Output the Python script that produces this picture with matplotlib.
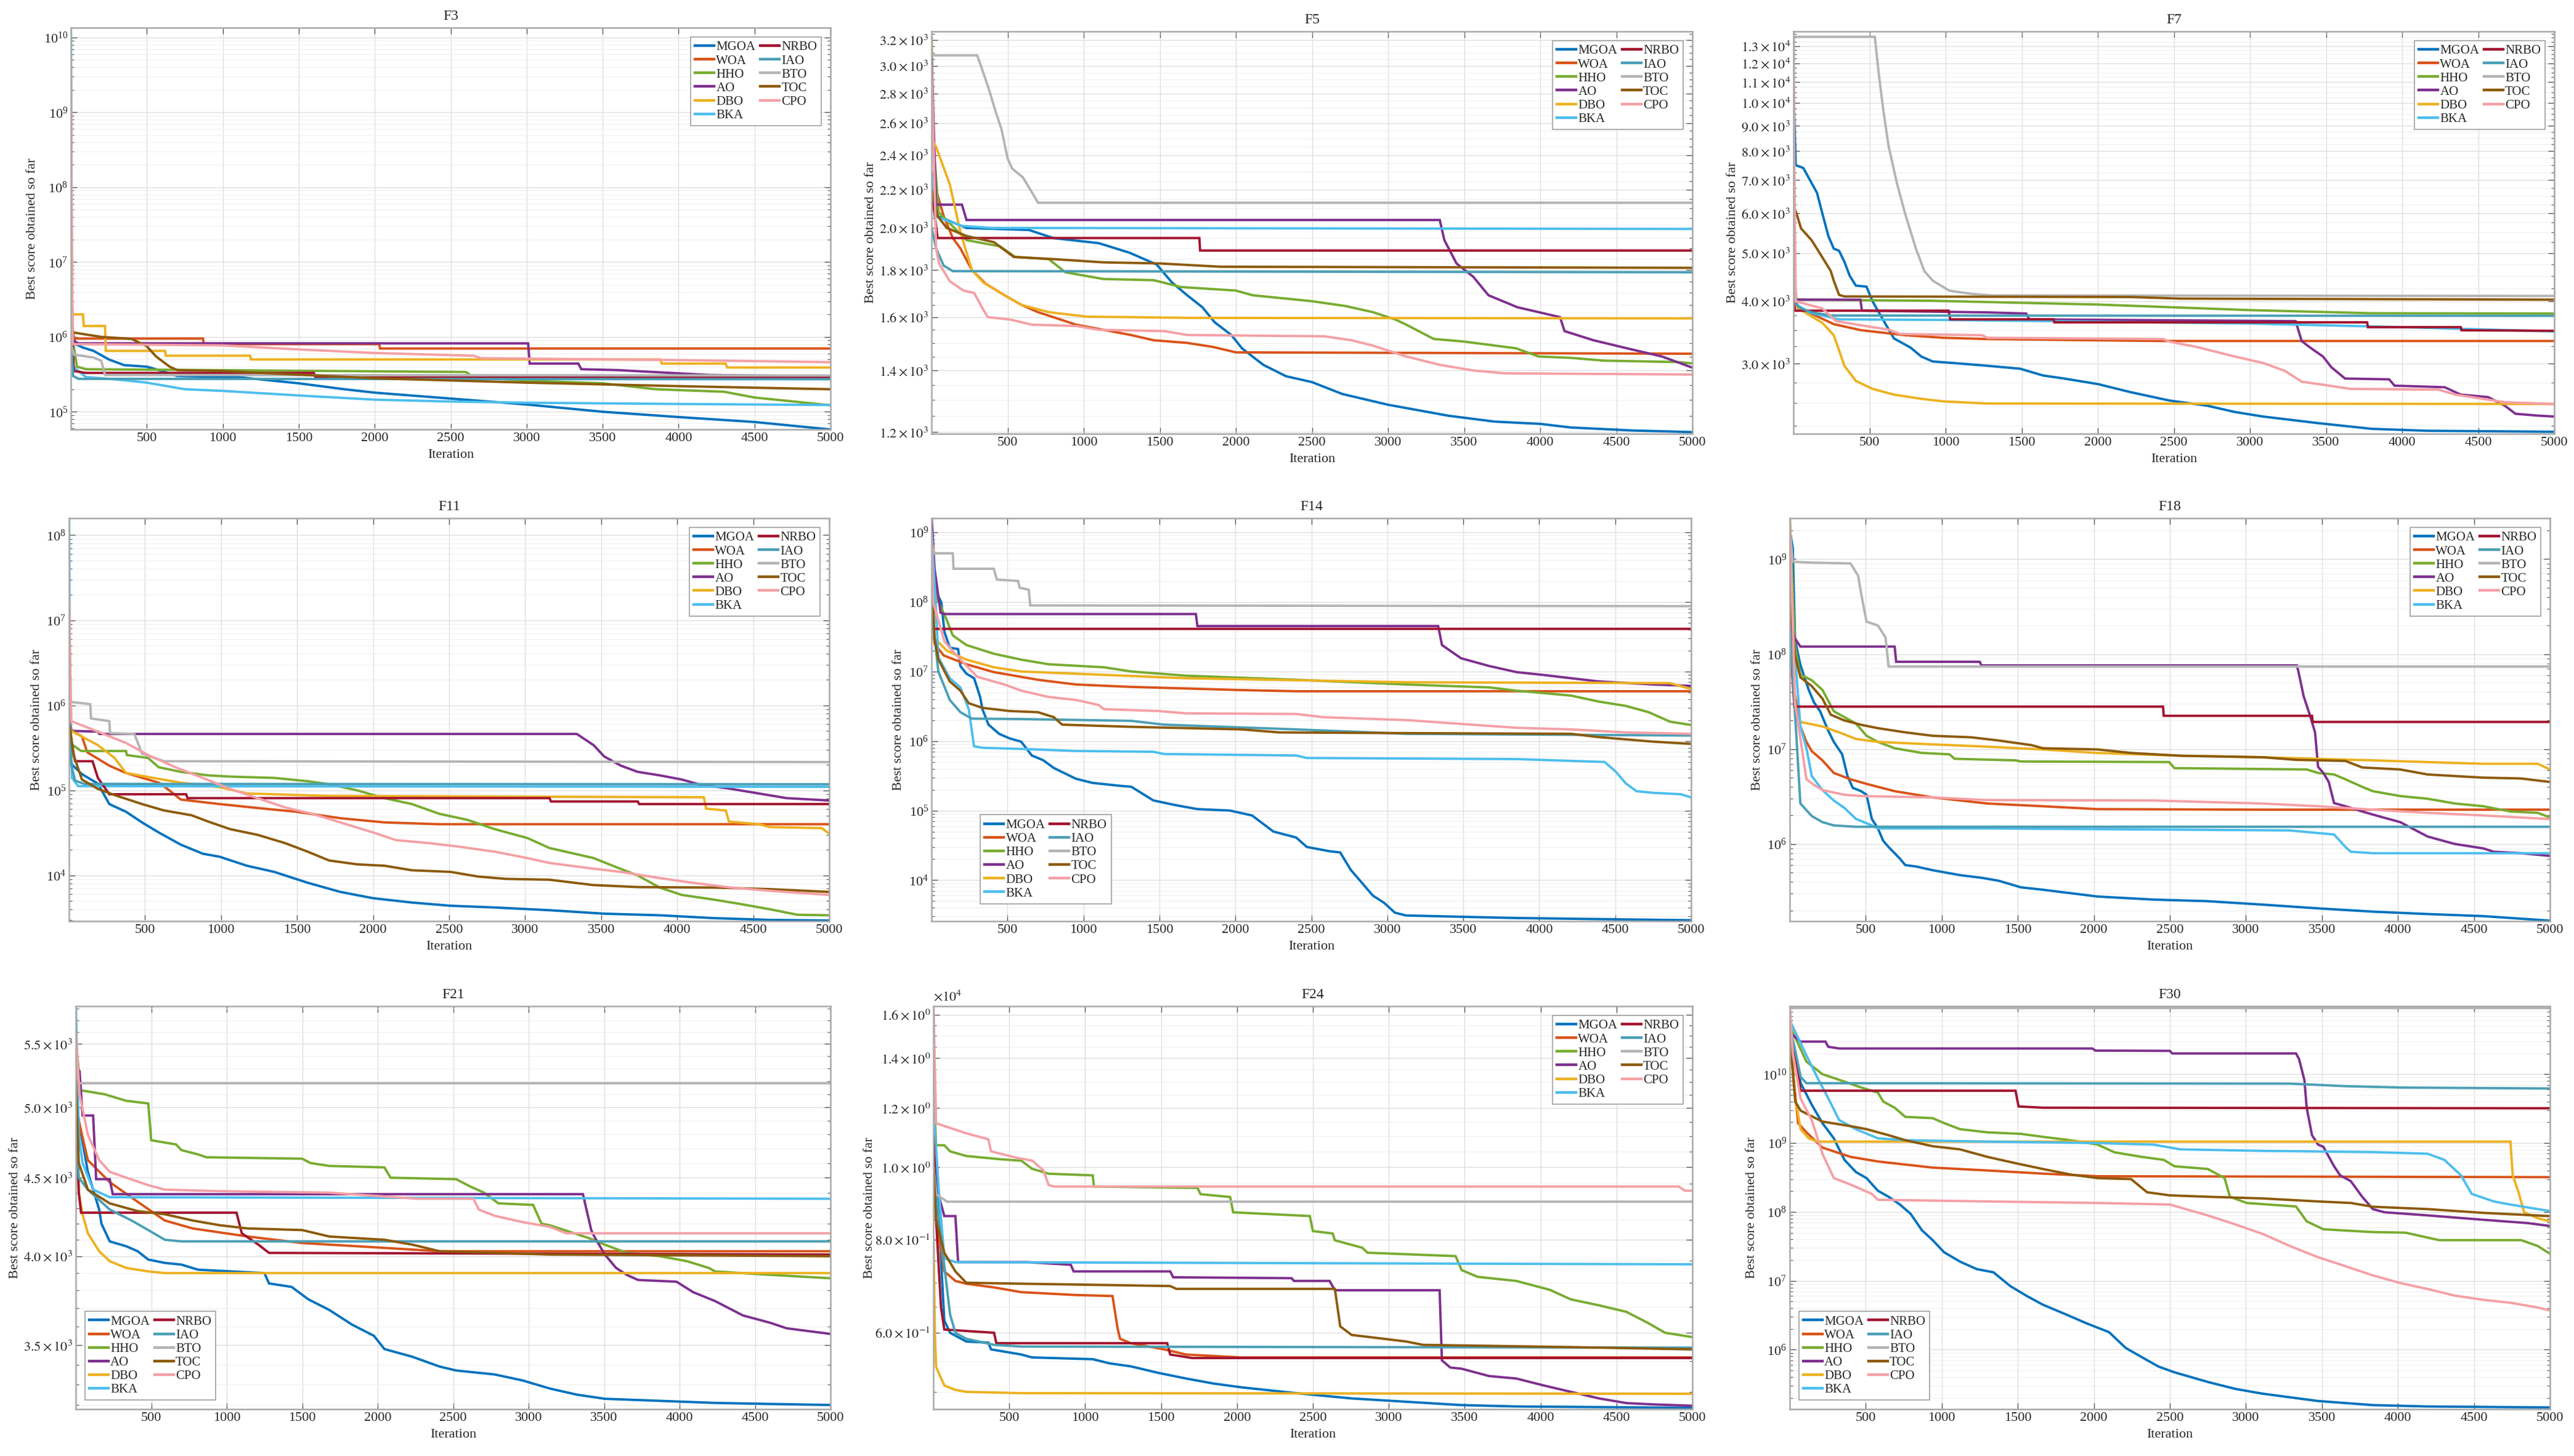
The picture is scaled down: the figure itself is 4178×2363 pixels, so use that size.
import matplotlib
matplotlib.use('Agg')
import matplotlib.pyplot as plt
from matplotlib.ticker import FixedLocator, FixedFormatter, NullFormatter, LogLocator

plt.rcParams['font.family'] = ['Liberation Serif', 'DejaVu Serif']
plt.rcParams['mathtext.fontset'] = 'stix'

ALGOS = ['MGOA', 'WOA', 'HHO', 'AO', 'DBO', 'BKA', 'NRBO', 'IAO', 'BTO', 'TOC', 'CPO']
COLORS = ['#0072BD', '#D95319', '#77AC30', '#7E2F8E', '#EDB120', '#4DBEEE',
          '#A2142F', '#4A9FB5', '#B4B4B4', '#8C5A0B', '#F4A0A5']
ITER_TICKS = [500, 1000, 1500, 2000, 2500, 3000, 3500, 4000, 4500, 5000]
FUNCS = ['F3', 'F5', 'F7', 'F11', 'F14', 'F18', 'F21', 'F24', 'F30']

# ---------------- F3 ----------------
F3_MGOA = [(1, 3.2e6), (10, 1.2e6), (30, 8e5), (80, 7.2e5), (150, 6.5e5), (250, 5e5), (350, 4.2e5), (500, 4e5), (600, 3.5e5), (700, 3e5), (1100, 2.9e5), (1500, 2.4e5), (1800, 2.0e5), (2000, 1.8e5), (2500, 1.5e5), (3000, 1.25e5), (3500, 1.0e5), (4000, 8.5e4), (4500, 7.3e4), (5000, 5.8e4)]
F3_WOA = [(1, 2e6), (20, 9.5e5), (870, 9.5e5), (875, 8e5), (2030, 8e5), (2035, 7e5), (5000, 7e5)]
F3_HHO = [(1, 3e6), (10, 1e6), (40, 4e5), (100, 3.7e5), (2600, 3.4e5), (2650, 2.9e5), (3000, 2.6e5), (3500, 2.4e5), (3850, 2.0e5), (4300, 1.85e5), (4500, 1.55e5), (5000, 1.22e5)]
F3_AO = [(1, 2e6), (10, 9e5), (50, 8.2e5), (3010, 8.2e5), (3020, 4.4e5), (3340, 4.4e5), (3360, 3.7e5), (3600, 3.6e5), (4200, 3.1e5), (5000, 2.95e5)]
F3_DBO = [(1, 3e6), (15, 2e6), (80, 2e6), (85, 1.4e6), (225, 1.4e6), (230, 6.5e5), (620, 6.5e5), (625, 5.6e5), (1180, 5.6e5), (1185, 5e5), (3880, 5e5), (3890, 4.4e5), (4310, 4.4e5), (4320, 3.9e5), (5000, 3.9e5)]
F3_BKA = [(1, 1.35e10), (5, 1e7), (15, 4e5), (100, 2.9e5), (300, 2.7e5), (500, 2.45e5), (750, 2.0e5), (1000, 1.9e5), (1500, 1.65e5), (2000, 1.45e5), (2500, 1.37e5), (3000, 1.32e5), (4000, 1.27e5), (5000, 1.23e5)]
F3_NRBO = [(1, 2e6), (20, 3.5e5), (100, 3.3e5), (1600, 3.3e5), (1610, 2.9e5), (5000, 2.85e5)]
F3_IAO = [(1, 1e6), (15, 3e5), (50, 2.75e5), (5000, 2.72e5)]
F3_BTO = [(1, 8e5), (20, 5.8e5), (150, 5.3e5), (200, 4.8e5), (225, 3.1e5), (5000, 3.05e5)]
F3_TOC = [(1, 3e6), (10, 1.15e6), (200, 1.0e6), (400, 9.4e5), (500, 7.5e5), (560, 5.5e5), (650, 4e5), (700, 3.6e5), (1000, 3.5e5), (1400, 3.2e5), (2000, 2.8e5), (3000, 2.45e5), (4000, 2.2e5), (5000, 2.0e5)]
F3_CPO = [(1, 5e9), (5, 1e8), (12, 8e5), (1000, 7.7e5), (1500, 6.8e5), (2000, 6.1e5), (2650, 5.6e5), (2700, 5.2e5), (4000, 4.9e5), (5000, 4.6e5)]

# ---------------- F5 ----------------
F5_MGOA = [(1, 2200), (20, 2170), (40, 2060), (230, 2000), (640, 1990), (800, 1950), (1100, 1925), (1300, 1880), (1480, 1825), (1580, 1745), (1680, 1690), (1780, 1640), (1860, 1580), (1970, 1530), (2040, 1480), (2180, 1420), (2330, 1380), (2500, 1360), (2700, 1320), (3000, 1285), (3400, 1250), (3700, 1232), (4000, 1225), (4200, 1214), (4600, 1205), (5000, 1200)]
F5_WOA = [(1, 2300), (30, 2200), (80, 2060), (140, 1950), (190, 1900), (265, 1800), (355, 1740), (480, 1690), (590, 1650), (700, 1620), (800, 1600), (950, 1570), (1130, 1550), (1310, 1530), (1460, 1510), (1680, 1500), (1850, 1485), (2000, 1465), (5000, 1460)]
F5_HHO = [(1, 3220), (10, 2500), (47, 2080), (230, 1940), (450, 1910), (550, 1860), (770, 1850), (880, 1790), (1130, 1760), (1460, 1755), (1640, 1725), (2000, 1710), (2110, 1690), (2500, 1665), (2720, 1645), (2900, 1620), (3050, 1590), (3120, 1570), (3300, 1515), (3500, 1505), (3840, 1480), (3990, 1450), (4200, 1445), (4420, 1435), (4900, 1430), (5000, 1425)]
F5_AO = [(1, 3050), (30, 2120), (200, 2120), (230, 2040), (3340, 2040), (3370, 1940), (3450, 1830), (3560, 1770), (3660, 1690), (3850, 1640), (4130, 1600), (4160, 1545), (4350, 1510), (4570, 1480), (4800, 1450), (5000, 1410)]
F5_DBO = [(1, 2500), (30, 2450), (120, 2230), (190, 1980), (265, 1800), (340, 1745), (480, 1690), (590, 1650), (770, 1620), (1020, 1602), (1700, 1597), (5000, 1595)]
F5_BKA = [(1, 2300), (20, 2060), (200, 2010), (400, 2000), (5000, 1995)]
F5_NRBO = [(1, 2200), (40, 1950), (1760, 1950), (1765, 1890), (5000, 1890)]
F5_IAO = [(1, 2000), (30, 1900), (80, 1820), (140, 1795), (5000, 1790)]
F5_BTO = [(1, 3080), (300, 3080), (340, 2950), (380, 2820), (420, 2680), (460, 2560), (500, 2380), (530, 2320), (600, 2270), (650, 2200), (700, 2130), (5000, 2130)]
F5_TOC = [(1, 2200), (40, 2060), (100, 2000), (230, 1960), (410, 1930), (540, 1860), (800, 1850), (1130, 1835), (1500, 1830), (1900, 1815), (5000, 1810)]
F5_CPO = [(1, 3000), (30, 1900), (50, 1830), (120, 1750), (210, 1710), (280, 1700), (340, 1630), (370, 1600), (520, 1590), (660, 1570), (950, 1565), (1100, 1550), (1530, 1545), (1680, 1530), (2580, 1525), (2760, 1510), (2900, 1490), (3120, 1450), (3340, 1420), (3560, 1400), (3770, 1390), (5000, 1386)]

# ---------------- F7 ----------------
F7_MGOA = [(1, 10500), (15, 7500), (65, 7400), (120, 6900), (155, 6600), (190, 6000), (230, 5400), (265, 5100), (300, 5050), (335, 4800), (370, 4500), (410, 4300), (480, 4280), (520, 4000), (590, 3670), (660, 3370), (770, 3230), (840, 3100), (915, 3030), (1100, 3000), (1275, 2970), (1490, 2930), (1640, 2840), (1780, 2800), (2000, 2730), (2215, 2630), (2470, 2530), (2720, 2470), (2900, 2400), (3085, 2350), (3445, 2280), (3800, 2220), (4170, 2200), (5000, 2190)]
F7_WOA = [(1, 4500), (20, 3890), (100, 3800), (265, 3600), (445, 3500), (735, 3420), (985, 3380), (1275, 3360), (2400, 3330), (5000, 3330)]
F7_HHO = [(1, 4500), (20, 4030), (900, 4010), (2000, 3940), (3000, 3840), (3800, 3785), (5000, 3780)]
F7_AO = [(1, 4300), (15, 4030), (440, 4030), (450, 3830), (1275, 3800), (1530, 3780), (1550, 3680), (3300, 3650), (3340, 3330), (3390, 3240), (3480, 3100), (3535, 2950), (3625, 2800), (3915, 2790), (3950, 2710), (4280, 2690), (4385, 2600), (4565, 2570), (4675, 2470), (4745, 2380), (4890, 2360), (5000, 2350)]
F7_DBO = [(1, 4500), (20, 3890), (190, 3620), (265, 3420), (300, 3190), (335, 2970), (410, 2770), (520, 2670), (660, 2600), (840, 2550), (985, 2520), (1275, 2495), (5000, 2490)]
F7_BKA = [(1, 13900), (5, 5000), (15, 3950), (100, 3800), (300, 3680), (1000, 3670), (2000, 3640), (3000, 3610), (4000, 3550), (5000, 3480)]
F7_NRBO = [(1, 4000), (10, 3830), (1020, 3830), (1030, 3680), (1710, 3680), (1715, 3630), (3770, 3630), (3775, 3550), (4385, 3550), (4390, 3500), (5000, 3490)]
F7_IAO = [(1, 4200), (30, 3900), (120, 3800), (250, 3745), (5000, 3740)]
F7_BTO = [(1, 13560), (535, 13560), (560, 11500), (590, 9700), (625, 8200), (680, 6900), (735, 5980), (805, 5100), (860, 4600), (915, 4400), (1025, 4200), (1170, 4140), (1300, 4110), (5000, 4100)]
F7_TOC = [(1, 6200), (20, 6000), (50, 5600), (120, 5300), (190, 4900), (245, 4600), (265, 4400), (300, 4120), (335, 4090), (2215, 4080), (2540, 4050), (5000, 4030)]
F7_CPO = [(1, 13000), (5, 8000), (15, 4000), (190, 3870), (280, 3650), (445, 3580), (625, 3510), (700, 3440), (1240, 3420), (1275, 3380), (2430, 3360), (2470, 3320), (2650, 3240), (2900, 3100), (3085, 3010), (3230, 2900), (3340, 2760), (3520, 2710), (3660, 2670), (4240, 2660), (4350, 2600), (4530, 2550), (4675, 2510), (5000, 2490)]

# ---------------- F11 ----------------
F11_MGOA = [(1, 3e5), (20, 2e5), (85, 1.55e5), (190, 1.2e5), (265, 6.9e4), (375, 5.6e4), (480, 4.2e4), (590, 3.2e4), (735, 2.3e4), (880, 1.8e4), (990, 1.66e4), (1170, 1.3e4), (1350, 1.1e4), (1570, 8.2e3), (1785, 6.4e3), (2000, 5.4e3), (2255, 4.8e3), (2510, 4.4e3), (2800, 4.2e3), (3160, 3.9e3), (3520, 3.55e3), (3885, 3.4e3), (4240, 3.15e3), (4610, 3.0e3), (5000, 2.95e3)]
F11_WOA = [(1, 6e5), (20, 5e5), (85, 4.3e5), (120, 2.8e5), (265, 1.95e5), (375, 1.6e5), (590, 1.23e5), (660, 1.0e5), (735, 7.8e4), (990, 6.9e4), (1280, 6.1e4), (1495, 5.6e4), (1785, 4.7e4), (2075, 4.2e4), (2435, 4.0e4), (5000, 4.0e4)]
F11_HHO = [(1, 8e5), (15, 3.5e5), (80, 2.9e5), (375, 2.9e5), (380, 2.6e5), (520, 2.4e5), (590, 1.87e5), (735, 1.65e5), (915, 1.5e5), (1060, 1.45e5), (1350, 1.4e5), (1570, 1.28e5), (1710, 1.18e5), (1895, 1.0e5), (2075, 8.1e4), (2255, 6.9e4), (2435, 5.3e4), (2620, 4.5e4), (2800, 3.5e4), (3015, 2.75e4), (3160, 2.1e4), (3450, 1.6e4), (3600, 1.25e4), (3740, 1.0e4), (3885, 7.2e3), (4030, 5.9e3), (4240, 5.2e3), (4420, 4.6e3), (4610, 4.0e3), (4790, 3.45e3), (5000, 3.4e3)]
F11_AO = [(1, 8e5), (15, 5e5), (190, 4.9e5), (200, 4.6e5), (3340, 4.6e5), (3450, 3.4e5), (3520, 2.5e5), (3630, 1.95e5), (3740, 1.65e5), (3885, 1.5e5), (4030, 1.34e5), (4140, 1.18e5), (4355, 1.04e5), (4535, 9.2e4), (4720, 8.1e4), (5000, 7.6e4)]
F11_DBO = [(1, 6e5), (15, 5e5), (190, 3.4e5), (300, 2.4e5), (375, 1.6e5), (555, 1.4e5), (735, 1.23e5), (990, 1.09e5), (1170, 9.2e4), (1710, 8.6e4), (4175, 8.3e4), (4190, 6.1e4), (4320, 5.8e4), (4340, 4.3e4), (4535, 4.0e4), (4610, 3.7e4), (4950, 3.6e4), (5000, 3.1e4)]
F11_BKA = [(1, 1.58e8), (5, 1e6), (20, 1.4e5), (60, 1.12e5), (5000, 1.1e5)]
F11_NRBO = [(1, 5e5), (40, 2.2e5), (155, 2.2e5), (190, 1.4e5), (265, 9.0e4), (770, 9.0e4), (780, 8.1e4), (3160, 8.1e4), (3170, 7.4e4), (3740, 7.4e4), (3750, 6.9e4), (5000, 6.9e4)]
F11_IAO = [(1, 5e5), (15, 2e5), (40, 1.3e5), (100, 1.19e5), (5000, 1.18e5)]
F11_BTO = [(1, 1.1e6), (140, 1.03e6), (145, 7e5), (265, 6.5e5), (270, 4.7e5), (430, 4.6e5), (480, 2.7e5), (625, 2.2e5), (5000, 2.15e5)]
F11_TOC = [(1, 6.5e5), (30, 2.6e5), (85, 1.34e5), (190, 1.04e5), (300, 8.8e4), (480, 6.9e4), (625, 5.8e4), (805, 5.1e4), (915, 4.3e4), (1060, 3.5e4), (1240, 3.0e4), (1420, 2.4e4), (1570, 1.9e4), (1710, 1.5e4), (1895, 1.35e4), (2075, 1.3e4), (2255, 1.15e4), (2510, 1.1e4), (2690, 9.7e3), (2875, 9.1e3), (3160, 8.9e3), (3450, 7.7e3), (3740, 7.3e3), (4240, 7.2e3), (4610, 6.9e3), (5000, 6.4e3)]
F11_CPO = [(1, 1.7e7), (15, 6.5e5), (190, 4.9e5), (375, 3.6e5), (520, 2.6e5), (700, 1.87e5), (880, 1.4e5), (1060, 1.04e5), (1240, 8.1e4), (1420, 6.3e4), (1600, 5.3e4), (1785, 4.2e4), (2000, 3.2e4), (2150, 2.6e4), (2365, 2.4e4), (2545, 2.2e4), (2800, 1.9e4), (3015, 1.6e4), (3160, 1.4e4), (3450, 1.2e4), (3630, 1.1e4), (3885, 9.3e3), (4100, 8.2e3), (4355, 7.2e3), (4610, 6.6e3), (5000, 5.9e3)]

# ---------------- F14 ----------------
F14_MGOA = [(1, 3e8), (30, 1.4e8), (65, 9.8e7), (85, 3.7e7), (120, 2.2e7), (175, 2.1e7), (190, 1.2e7), (230, 9.3e6), (280, 8e6), (320, 4.3e6), (335, 2.87e6), (375, 1.72e6), (445, 1.27e6), (515, 1.09e6), (590, 9.8e5), (660, 6.2e5), (735, 5.3e5), (805, 4.1e5), (950, 2.87e5), (1060, 2.5e5), (1240, 2.27e5), (1315, 2.2e5), (1460, 1.4e5), (1605, 1.2e5), (1750, 1.05e5), (1965, 1.0e5), (2110, 8.5e4), (2250, 5e4), (2400, 4.1e4), (2470, 3e4), (2620, 2.6e4), (2690, 2.5e4), (2760, 1.4e4), (2830, 9.3e3), (2905, 6e3), (2980, 4.7e3), (3050, 3.4e3), (3125, 3.1e3), (3850, 2.85e3), (5000, 2.65e3)]
F14_WOA = [(1, 1e8), (20, 2.5e7), (80, 1.7e7), (230, 1.27e7), (410, 9.8e6), (700, 7.6e6), (950, 6.5e6), (1315, 6.0e6), (2040, 5.4e6), (2400, 5.2e6), (5000, 5.2e6)]
F14_HHO = [(1, 3e8), (30, 1.2e8), (100, 5.5e7), (140, 3.3e7), (230, 2.4e7), (410, 1.8e7), (590, 1.48e7), (770, 1.27e7), (1135, 1.15e7), (1315, 1.0e7), (1675, 8.7e6), (2400, 7.6e6), (3125, 6.5e6), (3670, 5.9e6), (3850, 5.3e6), (4210, 4.5e6), (4390, 3.7e6), (4570, 3.2e6), (4720, 2.6e6), (4860, 1.9e6), (5000, 1.7e6)]
F14_AO = [(1, 1.6e9), (20, 3e8), (60, 7e7), (85, 6.7e7), (1740, 6.7e7), (1750, 4.5e7), (3335, 4.5e7), (3360, 2.4e7), (3485, 1.55e7), (3670, 1.2e7), (3850, 9.8e6), (4030, 8.9e6), (4210, 8e6), (4390, 7.2e6), (4750, 6.5e6), (5000, 6.2e6)]
F14_DBO = [(1, 1e8), (20, 3e7), (100, 2e7), (230, 1.48e7), (410, 1.15e7), (590, 1.0e7), (950, 9.3e6), (1675, 8e6), (3125, 7e6), (4860, 6.8e6), (5000, 5.6e6)]
F14_BKA = [(1, 1e9), (30, 7.5e7), (45, 1.6e7), (120, 8e6), (190, 5.9e6), (245, 2.87e6), (280, 8.4e5), (335, 8.0e5), (590, 7.7e5), (950, 7.2e5), (1460, 7.0e5), (1530, 6.5e5), (2400, 6.2e5), (2470, 5.7e5), (3850, 5.5e5), (4430, 5e5), (4500, 3.7e5), (4570, 2.46e5), (4640, 1.9e5), (4750, 1.8e5), (4930, 1.72e5), (5000, 1.55e5)]
F14_NRBO = [(1, 1.5e8), (10, 4.1e7), (5000, 4.1e7)]
F14_IAO = [(1, 2e8), (10, 5e7), (45, 1e7), (120, 3.9e6), (190, 2.6e6), (265, 2.1e6), (590, 2.07e6), (1315, 1.95e6), (1530, 1.72e6), (2400, 1.47e6), (3125, 1.27e6), (5000, 1.2e6)]
F14_BTO = [(1, 7e8), (20, 5e8), (140, 5e8), (145, 3e8), (410, 3e8), (430, 2.1e8), (570, 2.0e8), (580, 1.6e8), (640, 1.5e8), (650, 8.9e7), (5000, 8.7e7)]
F14_TOC = [(1, 3e8), (20, 3e7), (45, 1.5e7), (120, 7.2e6), (190, 5.3e6), (245, 3.5e6), (335, 3.0e6), (515, 2.7e6), (700, 2.6e6), (805, 2.2e6), (860, 1.72e6), (1315, 1.6e6), (2040, 1.47e6), (2290, 1.33e6), (3125, 1.3e6), (4210, 1.27e6), (4390, 1.14e6), (4750, 9.8e5), (5000, 9.1e5)]
F14_CPO = [(1, 8e8), (10, 1e8), (85, 2.7e7), (155, 1.8e7), (300, 8.4e6), (480, 6.5e6), (590, 5.3e6), (770, 4.3e6), (950, 3.9e6), (1100, 3.3e6), (1135, 2.87e6), (1495, 2.7e6), (1675, 2.5e6), (2400, 2.45e6), (2580, 2.2e6), (3125, 2.0e6), (3850, 1.55e6), (4210, 1.47e6), (4570, 1.33e6), (5000, 1.27e6)]

# ---------------- F18 ----------------
F18_MGOA = [(1, 2e9), (20, 1.3e9), (35, 1.4e8), (70, 7.7e7), (125, 4.2e7), (160, 3.1e7), (200, 2.5e7), (250, 1.6e7), (290, 1.19e7), (345, 8.8e6), (380, 5.2e6), (415, 3.9e6), (470, 3.6e6), (505, 3.3e6), (540, 1.84e6), (580, 1.46e6), (615, 1.08e6), (650, 9.3e5), (690, 8e5), (725, 7e5), (760, 6e5), (830, 5.8e5), (940, 5.3e5), (1120, 4.7e5), (1265, 4.4e5), (1375, 4.1e5), (1520, 3.5e5), (1665, 3.3e5), (2025, 2.8e5), (2390, 2.6e5), (2750, 2.5e5), (3110, 2.3e5), (3475, 2.1e5), (3835, 1.94e5), (4195, 1.83e5), (4560, 1.74e5), (5000, 1.56e5)]
F18_WOA = [(1, 3e8), (20, 5e7), (70, 1.73e7), (110, 1.19e7), (145, 9.5e6), (215, 7.6e6), (290, 5.6e6), (400, 4.8e6), (505, 4.3e6), (580, 4.0e6), (690, 3.6e6), (940, 3.1e6), (1300, 2.67e6), (1665, 2.5e6), (2025, 2.33e6), (3110, 2.3e6), (5000, 2.3e6)]
F18_HHO = [(1, 2.7e9), (35, 1.2e8), (70, 6.1e7), (145, 5.3e7), (215, 4.2e7), (290, 2.5e7), (435, 1.86e7), (505, 1.38e7), (580, 1.19e7), (690, 1.02e7), (870, 9.1e6), (1050, 8.8e6), (1085, 7.9e6), (1485, 7.6e6), (1520, 7.4e6), (2495, 7.3e6), (2530, 6.3e6), (3400, 6.1e6), (3475, 5.6e6), (3580, 5.4e6), (3655, 4.8e6), (3765, 4.0e6), (3835, 3.6e6), (4015, 3.2e6), (4195, 3.0e6), (4375, 2.67e6), (4560, 2.5e6), (4740, 2.2e6), (4920, 2.13e6), (5000, 1.9e6)]
F18_AO = [(1, 3e8), (30, 1.5e8), (70, 1.2e8), (690, 1.2e8), (700, 8.3e7), (1250, 8.3e7), (1260, 7.6e7), (3335, 7.6e7), (3345, 6.6e7), (3380, 3.6e7), (3420, 2.3e7), (3455, 1.5e7), (3475, 6.5e6), (3510, 5.6e6), (3545, 4.5e6), (3580, 2.7e6), (3655, 2.5e6), (3765, 2.2e6), (3870, 1.97e6), (4015, 1.7e6), (4195, 1.2e6), (4375, 1.0e6), (4560, 9e5), (4630, 8.3e5), (4810, 8.0e5), (5000, 7.5e5)]
F18_DBO = [(1, 3e8), (20, 5e7), (35, 2.3e7), (70, 1.93e7), (215, 1.73e7), (325, 1.5e7), (435, 1.28e7), (580, 1.19e7), (940, 1.12e7), (1300, 1.06e7), (1665, 9.9e6), (2025, 9.1e6), (2570, 8.5e6), (3110, 8.2e6), (3835, 7.6e6), (4560, 7.0e6), (4920, 7.0e6), (5000, 6.1e6)]
F18_BKA = [(1, 1e9), (20, 2e8), (70, 1.73e7), (110, 1.02e7), (145, 5.2e6), (215, 3.7e6), (290, 2.87e6), (360, 2.4e6), (435, 1.84e6), (540, 1.57e6), (580, 1.46e6), (1300, 1.46e6), (2750, 1.41e6), (3290, 1.39e6), (3580, 1.26e6), (3655, 9.3e5), (3690, 8.3e5), (3835, 8.0e5), (5000, 8.0e5)]
F18_NRBO = [(1, 7e8), (10, 1e8), (30, 2.8e7), (2455, 2.8e7), (2460, 2.24e7), (3435, 2.24e7), (3440, 1.93e7), (5000, 1.93e7)]
F18_IAO = [(1, 2e8), (20, 6e7), (70, 2.67e6), (145, 1.97e6), (215, 1.7e6), (290, 1.57e6), (435, 1.52e6), (5000, 1.52e6)]
F18_BTO = [(1, 2e9), (20, 9.4e8), (130, 9.2e8), (400, 9.0e8), (450, 6.7e8), (470, 4.3e8), (505, 2.2e8), (580, 2.0e8), (630, 1.5e8), (650, 7.4e7), (5000, 7.4e7)]
F18_TOC = [(1, 4e8), (35, 9.6e7), (70, 5.7e7), (145, 4.6e7), (215, 3.4e7), (270, 2.3e7), (360, 2.0e7), (470, 1.8e7), (580, 1.66e7), (760, 1.5e7), (940, 1.38e7), (1195, 1.33e7), (1375, 1.23e7), (1590, 1.1e7), (1665, 1.02e7), (2025, 9.9e6), (2245, 9.1e6), (2570, 8.5e6), (3110, 8.2e6), (3330, 7.7e6), (3655, 7.5e6), (3765, 6.4e6), (4015, 6.1e6), (4195, 5.4e6), (4560, 5.0e6), (4810, 4.9e6), (5000, 4.5e6)]
F18_CPO = [(1, 2.5e9), (35, 3.1e7), (110, 4.8e6), (160, 4.2e6), (215, 3.7e6), (360, 3.3e6), (470, 3.2e6), (940, 3.1e6), (1300, 2.9e6), (2390, 2.87e6), (3110, 2.67e6), (3475, 2.5e6), (3835, 2.3e6), (4195, 2.13e6), (4560, 2.0e6), (5000, 1.83e6)]

# ---------------- F21 ----------------
F21_MGOA = [(1, 5.1e3), (20, 4.9e3), (80, 4.54e3), (115, 4.42e3), (155, 4.29e3), (170, 4.2e3), (225, 4.09e3), (335, 4.06e3), (410, 4.03e3), (480, 3.98e3), (590, 3.96e3), (700, 3.95e3), (810, 3.92e3), (1250, 3.9e3), (1280, 3.84e3), (1430, 3.82e3), (1540, 3.75e3), (1680, 3.69e3), (1830, 3.61e3), (1975, 3.55e3), (2045, 3.48e3), (2230, 3.44e3), (2410, 3.39e3), (2520, 3.37e3), (2775, 3.35e3), (2960, 3.32e3), (3140, 3.28e3), (3320, 3.25e3), (3505, 3.23e3), (3870, 3.22e3), (4235, 3.21e3), (4600, 3.205e3), (5000, 3.2e3)]
F21_WOA = [(1, 5.1e3), (20, 4.9e3), (80, 4.62e3), (225, 4.47e3), (410, 4.34e3), (590, 4.22e3), (775, 4.17e3), (1140, 4.12e3), (1500, 4.08e3), (1870, 4.06e3), (2410, 4.03e3), (5000, 4.03e3)]
F21_HHO = [(1, 5.5e3), (35, 5.13e3), (190, 5.1e3), (335, 5.05e3), (480, 5.03e3), (500, 4.76e3), (665, 4.73e3), (700, 4.69e3), (810, 4.66e3), (865, 4.64e3), (1500, 4.63e3), (1555, 4.6e3), (1680, 4.58e3), (2045, 4.57e3), (2085, 4.5e3), (2520, 4.49e3), (2615, 4.44e3), (2705, 4.4e3), (2800, 4.33e3), (3030, 4.32e3), (3085, 4.2e3), (3140, 4.19e3), (3400, 4.11e3), (3505, 4.07e3), (3650, 4.02e3), (3870, 4.0e3), (4050, 3.97e3), (4195, 3.93e3), (4235, 3.91e3), (4600, 3.89e3), (5000, 3.87e3)]
F21_AO = [(1, 5.3e3), (25, 5.28e3), (45, 4.94e3), (115, 4.94e3), (135, 4.49e3), (225, 4.49e3), (245, 4.39e3), (3360, 4.39e3), (3415, 4.16e3), (3435, 4.12e3), (3505, 4.01e3), (3580, 3.93e3), (3650, 3.89e3), (3725, 3.86e3), (3980, 3.85e3), (4090, 3.79e3), (4235, 3.74e3), (4420, 3.66e3), (4600, 3.62e3), (4710, 3.59e3), (5000, 3.56e3)]
F21_DBO = [(1, 5.0e3), (20, 4.4e3), (45, 4.26e3), (80, 4.14e3), (155, 4.03e3), (225, 3.97e3), (335, 3.93e3), (480, 3.91e3), (590, 3.9e3), (5000, 3.9e3)]
F21_BKA = [(1, 5.8e3), (20, 4.8e3), (45, 4.6e3), (115, 4.42e3), (225, 4.37e3), (5000, 4.36e3)]
F21_NRBO = [(1, 5.0e3), (20, 4.4e3), (35, 4.27e3), (1065, 4.27e3), (1100, 4.14e3), (1210, 4.07e3), (1280, 4.02e3), (5000, 4.01e3)]
F21_IAO = [(1, 4.9e3), (20, 4.5e3), (80, 4.42e3), (225, 4.29e3), (370, 4.22e3), (480, 4.16e3), (590, 4.1e3), (700, 4.09e3), (5000, 4.09e3)]
F21_BTO = [(1, 5.3e3), (20, 5.185e3), (5000, 5.185e3)]
F21_TOC = [(1, 5.2e3), (20, 4.6e3), (80, 4.42e3), (225, 4.33e3), (410, 4.28e3), (590, 4.26e3), (775, 4.22e3), (955, 4.19e3), (1140, 4.17e3), (1500, 4.16e3), (1680, 4.12e3), (2045, 4.1e3), (2230, 4.07e3), (2410, 4.03e3), (3140, 4.01e3), (5000, 4.0e3)]
F21_CPO = [(1, 5.6e3), (25, 5.1e3), (80, 4.8e3), (155, 4.62e3), (225, 4.54e3), (335, 4.5e3), (480, 4.45e3), (590, 4.42e3), (955, 4.41e3), (1680, 4.4e3), (2265, 4.36e3), (2635, 4.36e3), (2670, 4.29e3), (2775, 4.25e3), (2960, 4.21e3), (3140, 4.18e3), (3250, 4.14e3), (5000, 4.14e3)]

# ---------------- F24 (values in units of 1e4) ----------------
F24_MGOA = [(1, 1.1), (18, 1.0), (72, 0.623), (110, 0.6), (217, 0.584), (362, 0.582), (380, 0.57), (580, 0.561), (650, 0.556), (1050, 0.553), (1160, 0.546), (1300, 0.541), (1485, 0.53), (1665, 0.521), (1845, 0.513), (2030, 0.507), (2390, 0.498), (2755, 0.49), (3115, 0.485), (3480, 0.48), (3840, 0.478), (5000, 0.476)]
F24_WOA = [(1, 1.05), (18, 0.85), (72, 0.725), (145, 0.704), (217, 0.698), (400, 0.69), (580, 0.68), (942, 0.674), (1180, 0.672), (1215, 0.606), (1230, 0.589), (1300, 0.581), (1520, 0.57), (1665, 0.561), (2030, 0.556), (5000, 0.556)]
F24_HHO = [(1, 1.3), (18, 1.07), (72, 1.07), (110, 1.05), (217, 1.035), (435, 1.025), (580, 1.02), (650, 0.995), (760, 0.98), (1050, 0.975), (1058, 0.942), (1740, 0.938), (1760, 0.92), (1955, 0.912), (1975, 0.87), (2480, 0.86), (2500, 0.821), (2630, 0.815), (2645, 0.798), (2825, 0.78), (2860, 0.768), (3440, 0.76), (3480, 0.728), (3585, 0.713), (3840, 0.704), (4060, 0.685), (4200, 0.665), (4385, 0.653), (4565, 0.64), (4710, 0.618), (4820, 0.6), (5000, 0.592)]
F24_AO = [(1, 1.2), (18, 0.944), (72, 0.86), (145, 0.86), (163, 0.746), (616, 0.746), (905, 0.74), (924, 0.725), (1560, 0.725), (1580, 0.712), (2360, 0.71), (2375, 0.704), (2610, 0.704), (2645, 0.684), (3335, 0.684), (3350, 0.551), (3405, 0.539), (3480, 0.537), (3660, 0.525), (3840, 0.521), (4020, 0.51), (4200, 0.5), (4385, 0.49), (4565, 0.483), (4745, 0.481), (5000, 0.479)]
F24_DBO = [(1, 0.8), (10, 0.6), (18, 0.54), (72, 0.51), (145, 0.503), (217, 0.5), (580, 0.498), (5000, 0.497)]
F24_BKA = [(1, 1.2), (36, 0.93), (72, 0.755), (145, 0.746), (5000, 0.741)]
F24_NRBO = [(1, 1.1), (18, 0.85), (50, 0.65), (72, 0.606), (400, 0.6), (415, 0.581), (1540, 0.581), (1560, 0.561), (1705, 0.555), (5000, 0.555)]
F24_IAO = [(1, 1.0), (36, 0.85), (110, 0.635), (145, 0.6), (217, 0.589), (400, 0.578), (580, 0.575), (5000, 0.573)]
F24_BTO = [(1, 1.0), (18, 0.92), (90, 0.899), (5000, 0.899)]
F24_TOC = [(1, 1.0), (18, 0.85), (72, 0.768), (145, 0.725), (217, 0.7), (580, 0.698), (1560, 0.693), (1600, 0.687), (2645, 0.687), (2680, 0.612), (2755, 0.596), (2935, 0.59), (3115, 0.584), (3225, 0.578), (4200, 0.574), (5000, 0.57)]
F24_CPO = [(1, 1.64), (18, 1.145), (217, 1.11), (362, 1.09), (380, 1.05), (543, 1.03), (652, 1.02), (725, 0.99), (760, 0.946), (797, 0.942), (4910, 0.942), (4950, 0.93), (5000, 0.93)]

# ---------------- F30 ----------------
F30_MGOA = [(1, 4e10), (72, 7.4e9), (145, 3.6e9), (215, 1.95e9), (290, 1.17e9), (360, 5.7e8), (435, 3.8e8), (505, 3.1e8), (580, 2.03e8), (650, 1.66e8), (725, 1.28e8), (795, 9.4e7), (870, 5.4e7), (940, 3.9e7), (1015, 2.6e7), (1120, 1.9e7), (1230, 1.48e7), (1340, 1.33e7), (1450, 8.4e6), (1555, 6.1e6), (1665, 4.5e6), (1810, 3.3e6), (1955, 2.4e6), (2100, 1.8e6), (2210, 1.06e6), (2315, 7.8e5), (2425, 5.7e5), (2530, 4.7e5), (2750, 3.4e5), (2930, 2.7e5), (3110, 2.3e5), (3475, 1.8e5), (3835, 1.57e5), (4195, 1.5e5), (5000, 1.45e5)]
F30_WOA = [(1, 3e10), (55, 1.95e9), (110, 1.43e9), (215, 8.6e8), (400, 6.3e8), (580, 5.4e8), (940, 4.4e8), (1300, 4.0e8), (1665, 3.6e8), (2025, 3.3e8), (5000, 3.2e8)]
F30_HHO = [(1, 5e10), (110, 1.52e10), (215, 1.0e10), (360, 7.8e9), (470, 6.4e9), (580, 5.4e9), (615, 4e9), (690, 3.26e9), (760, 2.4e9), (940, 2.3e9), (1015, 1.95e9), (1120, 1.59e9), (1300, 1.43e9), (1520, 1.36e9), (1665, 1.23e9), (1845, 1.1e9), (2025, 9.5e8), (2135, 7.35e8), (2315, 6.3e8), (2460, 5.7e8), (2530, 4.6e8), (2750, 4.2e8), (2860, 3.1e8), (2895, 1.66e8), (3005, 1.35e8), (3330, 1.2e8), (3400, 7.3e7), (3510, 5.6e7), (3835, 5.1e7), (4050, 5.0e7), (4270, 3.9e7), (4810, 3.9e7), (4920, 3.2e7), (5000, 2.47e7)]
F30_AO = [(1, 4e10), (72, 2.97e10), (235, 2.97e10), (253, 2.5e10), (325, 2.36e10), (1990, 2.36e10), (2010, 2.2e10), (2500, 2.18e10), (2515, 2.0e10), (3330, 2.0e10), (3350, 1.65e10), (3385, 8.2e9), (3400, 3.26e9), (3435, 1.3e9), (3475, 9.5e8), (3510, 8.8e8), (3580, 4.6e8), (3620, 3.4e8), (3690, 2.8e8), (3765, 1.66e8), (3835, 1.1e8), (3910, 9.9e7), (4200, 8.9e7), (4560, 7.7e7), (4850, 6.9e7), (5000, 6.25e7)]
F30_DBO = [(1, 3e10), (36, 4.4e9), (72, 1.59e9), (125, 1.17e9), (180, 1.05e9), (4740, 1.05e9), (4755, 3.4e8), (4790, 2.03e8), (4830, 9.9e7), (4920, 8.1e7), (5000, 7.3e7)]
F30_BKA = [(1, 6e10), (110, 1.87e10), (180, 9.1e9), (255, 4.4e9), (325, 2.16e9), (435, 1.59e9), (580, 1.17e9), (760, 1.1e9), (1300, 1.05e9), (2025, 1.0e9), (2390, 9.5e8), (2570, 8.1e8), (3110, 7.7e8), (3835, 7.4e8), (4195, 7.0e8), (4305, 5.7e8), (4415, 3.4e8), (4485, 1.83e8), (4630, 1.42e8), (4740, 1.28e8), (4920, 1.1e8), (5000, 1.03e8)]
F30_NRBO = [(1, 4e10), (40, 1.5e10), (72, 5.75e9), (1485, 5.75e9), (1505, 3.4e9), (1665, 3.26e9), (5000, 3.2e9)]
F30_IAO = [(1, 5e10), (40, 2e10), (72, 9.1e9), (110, 7.4e9), (3290, 7.3e9), (3655, 6.7e9), (4015, 6.4e9), (5000, 6.2e9)]
F30_BTO = [(1, 9.2e10), (5000, 9.2e10)]
F30_TOC = [(1, 4e10), (36, 4e9), (72, 2.95e9), (215, 2.05e9), (400, 1.76e9), (505, 1.59e9), (650, 1.3e9), (760, 1.1e9), (940, 9e8), (1120, 8.1e8), (1300, 6.3e8), (1485, 5.1e8), (1665, 4.2e8), (1845, 3.5e8), (2025, 3.1e8), (2245, 3.0e8), (2350, 1.93e8), (2500, 1.74e8), (2750, 1.66e8), (3110, 1.57e8), (3475, 1.42e8), (3690, 1.35e8), (3835, 1.19e8), (4195, 1.1e8), (4560, 9.7e7), (5000, 8.7e7)]
F30_CPO = [(1, 9.5e10), (20, 2e10), (72, 4.4e9), (145, 2.16e9), (215, 7e8), (290, 3.1e8), (400, 2.5e8), (540, 1.83e8), (580, 1.5e8), (1300, 1.42e8), (2025, 1.35e8), (2500, 1.28e8), (2750, 8.9e7), (2930, 6.6e7), (3110, 4.8e7), (3290, 3.2e7), (3475, 2.2e7), (3655, 1.63e7), (3835, 1.2e7), (4015, 9.3e6), (4195, 7.6e6), (4375, 6.1e6), (4560, 5.3e6), (4740, 4.8e6), (4920, 4.1e6), (5000, 3.7e6)]

# y-axis limits
Y_LIMITS = {'F3': (5.8e4, 1.35e10), 'F5': (1.195e3, 3.27e3), 'F7': (2.17e3, 1.39e4),
            'F11': (2.9e3, 1.58e8), 'F14': (2.57e3, 1.6e9), 'F18': (1.54e5, 2.7e9),
            'F21': (3.18e3, 5.82e3), 'F24': (0.474, 1.643), 'F30': (1.37e5, 9.7e10)}

# custom tick values / labels for panels with mantissa labels
F5_TICKS = [1200, 1400, 1600, 1800, 2000, 2200, 2400, 2600, 2800, 3000, 3200]
F5_LABELS = [r'$1.2\times10^{3}$', r'$1.4\times10^{3}$', r'$1.6\times10^{3}$', r'$1.8\times10^{3}$',
             r'$2.0\times10^{3}$', r'$2.2\times10^{3}$', r'$2.4\times10^{3}$', r'$2.6\times10^{3}$',
             r'$2.8\times10^{3}$', r'$3.0\times10^{3}$', r'$3.2\times10^{3}$']
F7_TICKS = [3000, 4000, 5000, 6000, 7000, 8000, 9000, 10000, 11000, 12000, 13000]
F7_LABELS = [r'$3.0\times10^{3}$', r'$4.0\times10^{3}$', r'$5.0\times10^{3}$', r'$6.0\times10^{3}$',
             r'$7.0\times10^{3}$', r'$8.0\times10^{3}$', r'$9.0\times10^{3}$', r'$1.0\times10^{4}$',
             r'$1.1\times10^{4}$', r'$1.2\times10^{4}$', r'$1.3\times10^{4}$']
F21_TICKS = [3500, 4000, 4500, 5000, 5500]
F21_LABELS = [r'$3.5\times10^{3}$', r'$4.0\times10^{3}$', r'$4.5\times10^{3}$', r'$5.0\times10^{3}$',
              r'$5.5\times10^{3}$']
F24_TICKS = [0.6, 0.8, 1.0, 1.2, 1.4, 1.6]
F24_LABELS = [r'$6.0\times10^{-1}$', r'$8.0\times10^{-1}$', r'$1.0\times10^{0}$', r'$1.2\times10^{0}$',
              r'$1.4\times10^{0}$', r'$1.6\times10^{0}$']

SERIES = {}
for _f in FUNCS:
    SERIES[_f] = {a: globals()[_f + '_' + a] for a in ALGOS}

CUSTOM = {'F5': (F5_TICKS, F5_LABELS, 50), 'F7': (F7_TICKS, F7_LABELS, 250),
          'F21': (F21_TICKS, F21_LABELS, 100), 'F24': (F24_TICKS, F24_LABELS, 0.05)}

# layout (pixels: left, top, right, bottom)
W, H = 4178, 2363
AX_BOXES = {'F3': (115, 45, 1348, 697), 'F5': (1512, 51, 2747, 704), 'F7': (2911, 51, 4146, 704),
            'F11': (112, 841, 1346, 1495), 'F14': (1512, 841, 2745, 1495), 'F18': (2905, 841, 4139, 1495),
            'F21': (123, 1633, 1348, 2287), 'F24': (1515, 1633, 2747, 2287), 'F30': (2905, 1633, 4139, 2287)}
YLABEL_X = {'F3': -0.043, 'F5': -0.072, 'F7': -0.072, 'F11': -0.035, 'F14': -0.036,
            'F18': -0.035, 'F21': -0.073, 'F24': -0.076, 'F30': -0.042}
LEGEND_POS = {'F3': 'ur', 'F5': 'ur', 'F7': 'ur', 'F11': 'ur', 'F14': 'll2', 'F18': 'ur',
              'F21': 'll', 'F24': 'ur', 'F30': 'll'}

fig = plt.figure(figsize=(W / 100, H / 100), dpi=100)
fig.patch.set_facecolor('white')

GRID_C = '#DCDCDC'
for fname in FUNCS:
    l, t, r, b = AX_BOXES[fname]
    ax = fig.add_axes([l / W, 1 - b / H, (r - l) / W, (b - t) / H])
    for algo, col in zip(ALGOS, COLORS):
        pts = SERIES[fname][algo]
        ax.plot([p[0] for p in pts], [p[1] for p in pts], color=col, lw=2.8, label=algo,
                solid_joinstyle='miter')
    ax.set_yscale('log')
    ax.set_xlim(0, 5000)
    ax.set_ylim(*Y_LIMITS[fname])
    ax.set_xticks(ITER_TICKS)
    ax.set_xticklabels([str(v) for v in ITER_TICKS])
    if fname in CUSTOM:
        ticks, labels, mstep = CUSTOM[fname]
        ax.yaxis.set_major_locator(FixedLocator(ticks))
        ax.yaxis.set_major_formatter(FixedFormatter(labels))
        lo, hi = Y_LIMITS[fname]
        n0 = int(lo / mstep) + 1
        n1 = int(hi / mstep)
        ax.yaxis.set_minor_locator(FixedLocator([k * mstep for k in range(n0, n1 + 1)]))
    else:
        ax.yaxis.set_major_locator(LogLocator(base=10, numticks=20))
        ax.yaxis.set_minor_locator(LogLocator(base=10, subs=[2, 3, 4, 5, 6, 7, 8, 9], numticks=100))
    ax.yaxis.set_minor_formatter(NullFormatter())

    ax.grid(True, which='major', color=GRID_C, lw=0.9)
    ax.grid(True, which='minor', axis='y', color='#EFEFEF', lw=0.7)
    ax.set_axisbelow(True)
    for sp in ax.spines.values():
        sp.set_color('#A8A8A8')
        sp.set_linewidth(1.8)
    ax.tick_params(which='both', direction='in', top=True, right=True, colors='#555555',
                   labelcolor='#262626', labelsize=16)
    ax.tick_params(which='major', length=7, width=1.0)
    ax.tick_params(which='minor', length=3.5, width=0.8)
    ax.set_title(fname, fontsize=17, pad=9, color='#262626')
    ax.set_xlabel('Iteration', fontsize=16, color='#262626', labelpad=6)
    ax.set_ylabel('Best score obtained so far', fontsize=16, color='#262626')
    ax.yaxis.set_label_coords(YLABEL_X[fname], 0.5)
    if fname == 'F24':
        ax.text(0.0, 1.006, r'$\times10^{4}$', transform=ax.transAxes, fontsize=16,
                ha='left', va='bottom', color='#262626')

    kw = dict(ncol=2, fontsize=15, handlelength=1.5, handletextpad=0.15, columnspacing=0.35,
              labelspacing=0.12, borderpad=0.35, fancybox=False, framealpha=1.0,
              edgecolor='#A0A0A0')
    pos = LEGEND_POS[fname]
    if pos == 'ur':
        leg = ax.legend(loc='upper right', borderaxespad=0.7, **kw)
    elif pos == 'll':
        leg = ax.legend(loc='lower left', borderaxespad=0.7, **kw)
    else:
        leg = ax.legend(loc='lower left', bbox_to_anchor=(0.064, 0.043), borderaxespad=0, **kw)
    leg.get_frame().set_linewidth(1.2)
    for ln in leg.get_lines():
        ln.set_linewidth(3.2)
    for txt in leg.get_texts():
        txt.set_color('#262626')

fig.savefig('out.png', dpi=100, facecolor='white')
